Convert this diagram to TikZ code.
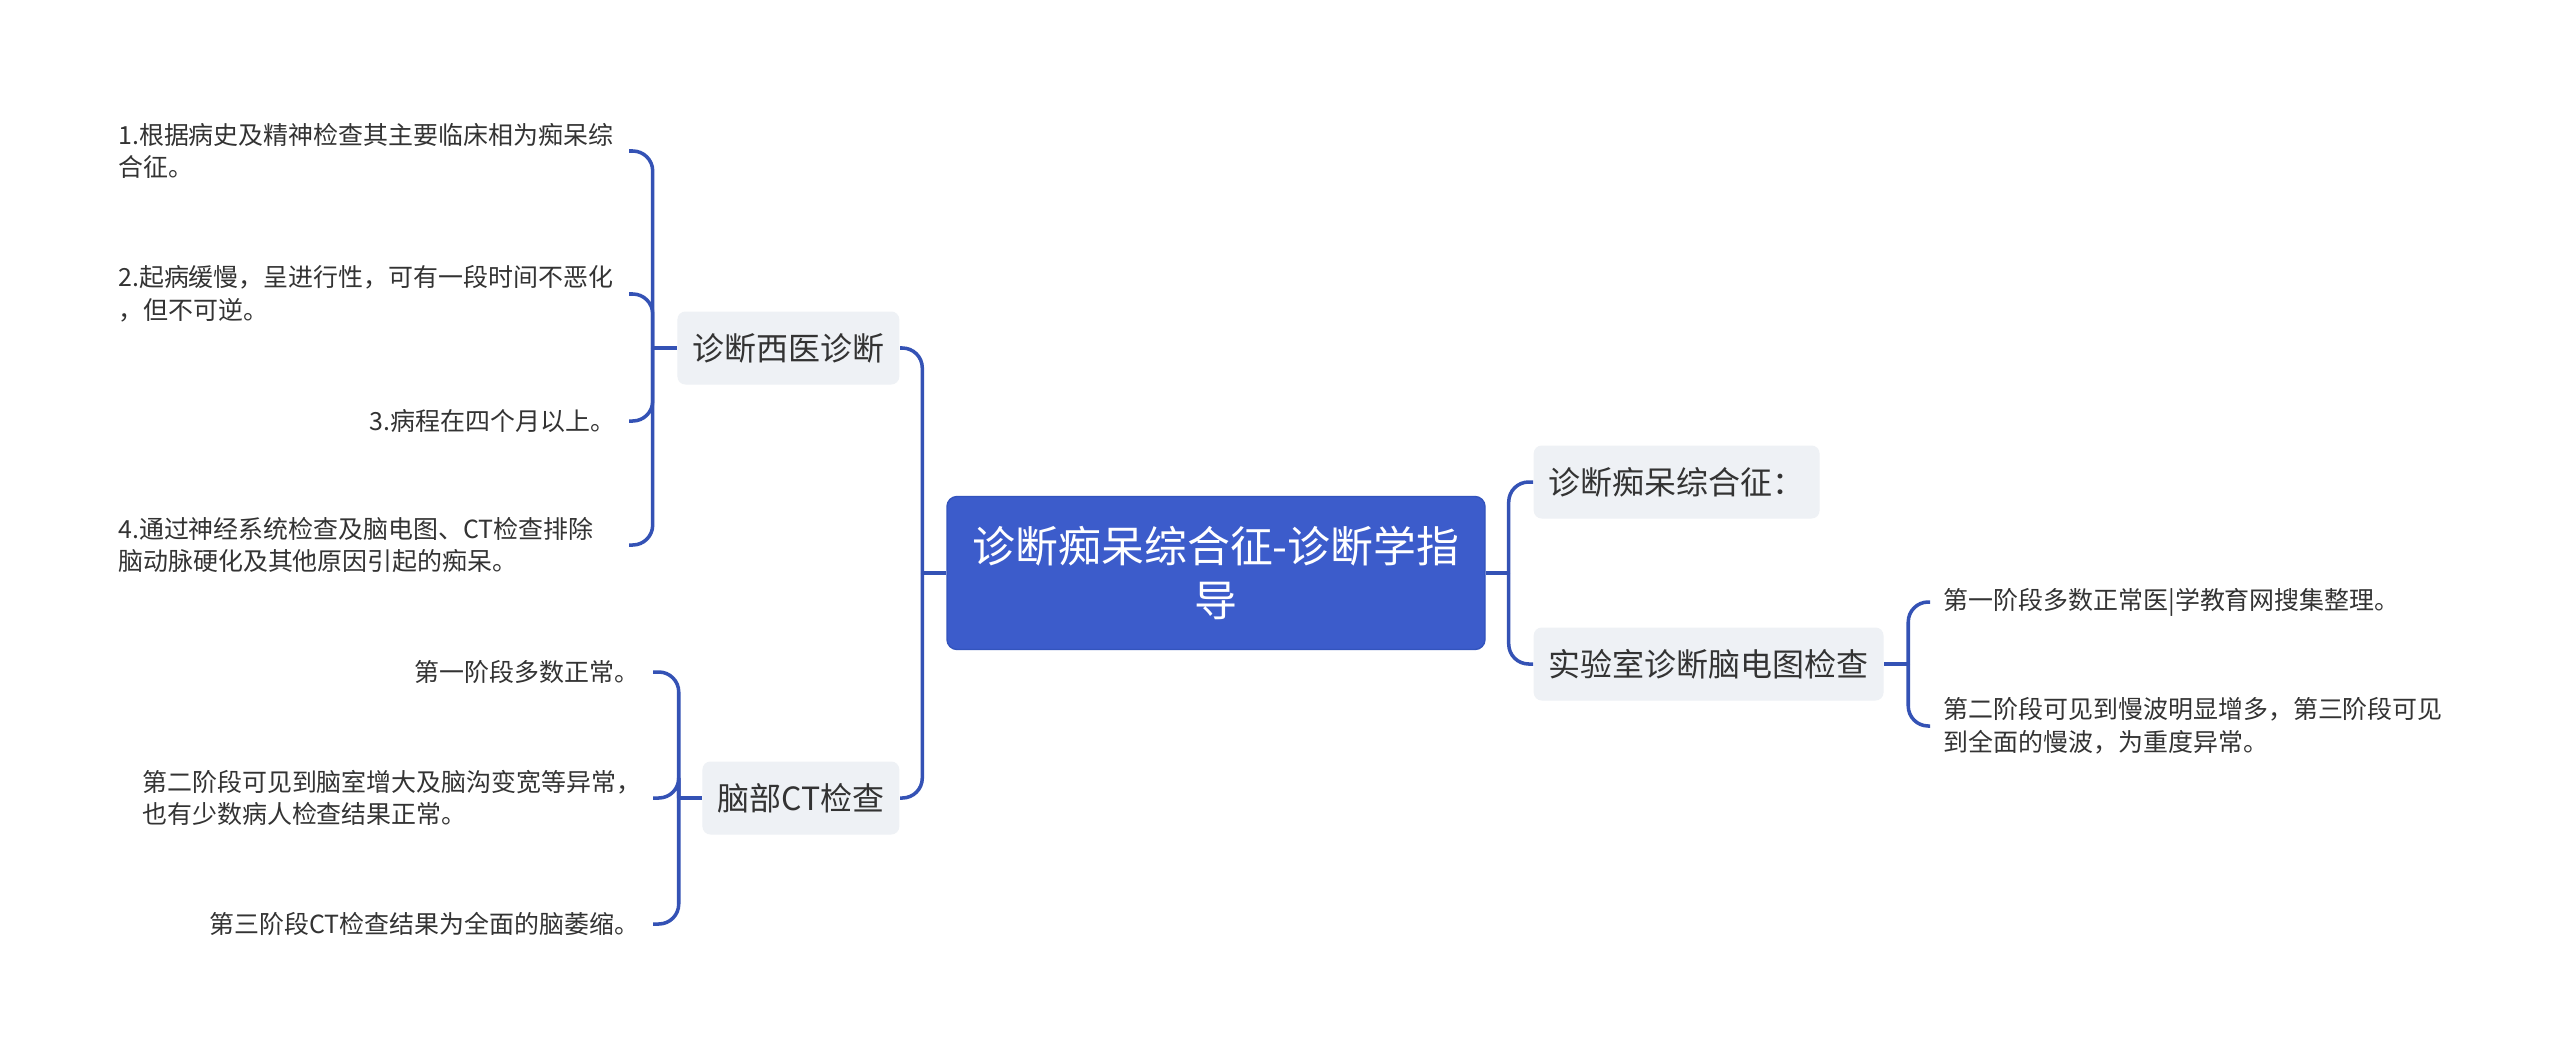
\documentclass[tikz,border=0pt]{standalone}
\usepackage{fontspec}
\usepackage{xcolor}
\usepackage{tikz}
\usetikzlibrary{calc,positioning}
\newfontfamily\cjk{Noto Sans CJK SC}
\definecolor{rootblue}{HTML}{3C5CCB}
\definecolor{rootedge}{HTML}{3354BD}
\definecolor{linkblue}{HTML}{3452B5}
\definecolor{topicgray}{HTML}{EEF1F5}
\definecolor{textgray}{HTML}{333333}
\tikzset{
    rootbox/.style={fill=rootblue,draw=rootedge,line width=0.4pt,rounded corners=0.1cm,text=white,align=center,
        minimum width=5.38cm,minimum height=1.53cm,font=\cjk\fontsize{12.2pt}{15.3pt}\selectfont},
    topicbox/.style={fill=topicgray,rounded corners=0.08cm,text=textgray,inner xsep=0.15cm,
        minimum height=0.73cm,font=\cjk\fontsize{9.1pt}{11pt}\selectfont},
    leaftext/.style={text=textgray,inner xsep=0.13cm,inner ysep=0.05cm,font=\cjk\fontsize{7.1pt}{9.3pt}\selectfont},
    wrapped/.style={text width=4.97cm,align=left},
    branch/.style={draw=linkblue,line width=1pt,rounded corners=0.2cm},
}

\begin{document}
\begin{tikzpicture}
    \fill[white] (0,0) rectangle (25.6,-10.59);
    \useasboundingbox (0,0) rectangle (25.6,-10.59);

    \node[rootbox] (root) at (12.16,-5.73) {诊断痴呆综合征-诊断学指\\导};

    \node[topicbox,anchor=east] (xiyi) at (9.00,-3.48) {诊断西医诊断};
    \node[topicbox,anchor=east] (ct) at (9.00,-7.98) {脑部CT检查};
    \node[topicbox,anchor=west] (zhenduan) at (15.33,-4.82) {诊断痴呆综合征：};
    \node[topicbox,anchor=west] (eeg) at (15.33,-6.64) {实验室诊断脑电图检查};

    \node[leaftext,wrapped,anchor=east] (xiyia) at (6.29,-1.51) {1.根据病史及精神检查其主要临床相为痴呆综\\合征。};
    \node[leaftext,wrapped,anchor=east] (xiyib) at (6.29,-2.94) {2.起病缓慢，呈进行性，可有一段时间不恶化\\，但不可逆。};
    \node[leaftext,anchor=east] (xiyic) at (6.29,-4.21) {3.病程在四个月以上。};
    \node[leaftext,wrapped,anchor=east] (xiyid) at (6.29,-5.45) {4.通过神经系统检查及脑电图、CT检查排除\\脑动脉硬化及其他原因引起的痴呆。};

    \node[leaftext,anchor=east] (cta) at (6.53,-6.72) {第一阶段多数正常。};
    \node[leaftext,wrapped,anchor=east] (ctb) at (6.53,-7.98) {第二阶段可见到脑室增大及脑沟变宽等异常，\\也有少数病人检查结果正常。};
    \node[leaftext,anchor=east] (ctc) at (6.53,-9.24) {第三阶段CT检查结果为全面的脑萎缩。};

    \node[leaftext,anchor=west] (eega) at (19.30,-6.02) {第一阶段多数正常医|学教育网搜集整理。};
    \node[leaftext,wrapped,anchor=west] (eegb) at (19.30,-7.26) {第二阶段可见到慢波明显增多，第三阶段可见\\到全面的慢波，为重度异常。};

    \coordinate[left=0.24cm of root.west] (jl);
    \coordinate[right=0.23cm of root.east] (jr);
    \coordinate[left=0.24cm of xiyi.west] (jxiyi);
    \coordinate[left=0.23cm of ct.west] (jct);
    \coordinate[right=0.24cm of eeg.east] (jeeg);

    \draw[branch] (root.west) -- (jl);
    \draw[branch] (jl) |- (xiyi.east);
    \draw[branch] (jl) |- (ct.east);
    \draw[branch] (root.east) -- (jr);
    \draw[branch] (jr) |- (zhenduan.west);
    \draw[branch] (jr) |- (eeg.west);

    \draw[branch] (xiyi.west) -- (jxiyi);
    \foreach \leaf in {xiyia,xiyib,xiyic,xiyid}
        \draw[branch] (jxiyi) |- (\leaf.east);
    \draw[branch] (ct.west) -- (jct);
    \foreach \leaf in {cta,ctb,ctc}
        \draw[branch] (jct) |- (\leaf.east);
    \draw[branch] (eeg.east) -- (jeeg);
    \foreach \leaf in {eega,eegb}
        \draw[branch] (jeeg) |- (\leaf.west);
\end{tikzpicture}
\end{document}
